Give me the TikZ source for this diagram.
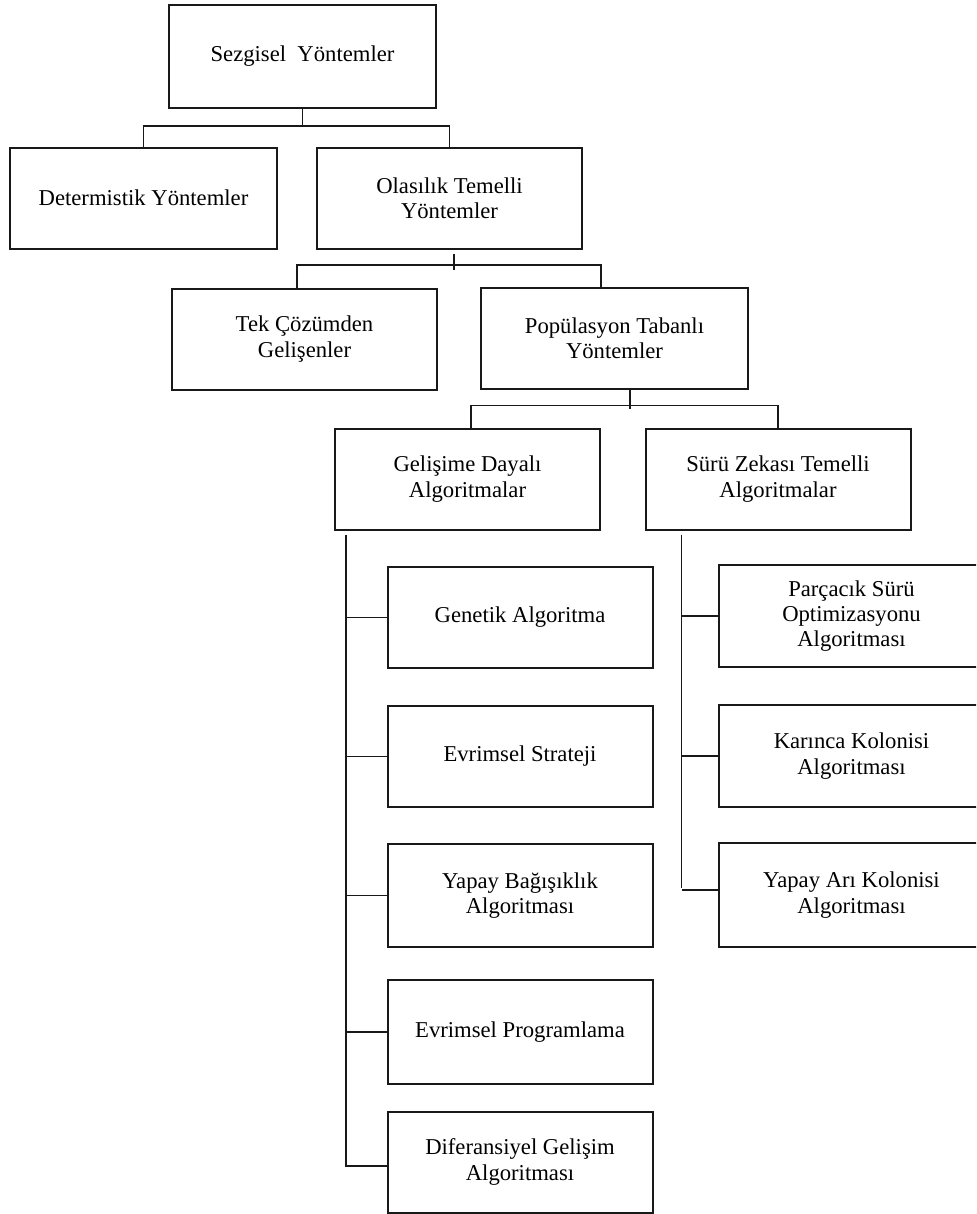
\documentclass[tikz,border=0pt]{standalone}
\usepackage{fontspec}
\setmainfont{Liberation Serif}
\usetikzlibrary{calc}
\begin{document}
\begin{tikzpicture}[x=0.75pt,y=-0.75pt,
  box/.style={draw=black!90, line width=1.5pt, fill=white, align=center,
    minimum width=198.75pt, minimum height=75.75pt, inner sep=0pt,
    font=\fontsize{17}{19}\selectfont},
  conn/.style={draw=black!90, line width=1.2pt}]
  \fill[white] (0,0) rectangle (976,1214);
  \useasboundingbox (0,0) rectangle (976,1214);
  \clip (0,0) rectangle (976,1214);

  % upper levels
  \node[box, minimum width=200.25pt, minimum height=77.25pt] (S) at (302.5,56.5) {Sezgisel\ \ Yöntemler};
  \node[box, minimum width=200.25pt] (D) at (143.5,198) {Determistik Yöntemler};
  \node[box] (O) at (449.5,198) {Olasılık Temelli\\Yöntemler};
  \node[box] (T) at (304.5,339) {Tek Çözümden\\Gelişenler};
  \node[box, minimum width=200.25pt] (P) at (614.5,338.5) {Popülasyon Tabanlı\\Yöntemler};
  \node[box] (G) at (467.5,479) {Gelişime Dayalı\\Algoritmalar};
  \node[box] (Z) at (778,479) {Sürü Zekası Temelli\\Algoritmalar};

  % evolution-based algorithms
  \node[box] (L1) at (520,617.5) {Genetik Algoritma};
  \node[box] (L2) at (520,756.5) {Evrimsel Strateji};
  \node[box, minimum height=77.25pt] (L3) at (520,895.5) {Yapay Bağışıklık\\Algoritması};
  \node[box, minimum height=78pt] (L4) at (520,1032) {Evrimsel Programlama};
  \node[box] (L5) at (520,1162) {Diferansiyel Gelişim\\Algoritması};

  % swarm intelligence algorithms
  \node[box, minimum height=76.5pt] (R1) at (851.5,616) {Parçacık Sürü\\Optimizasyonu\\Algoritması};
  \node[box, minimum height=76.5pt] (R2) at (851.5,756) {Karınca Kolonisi\\Algoritması};
  \node[box, minimum height=78pt] (R3) at (851.5,895) {Yapay Arı Kolonisi\\Algoritması};

  % tree connectors
  \draw[conn] (S.south) -- ($(S.south)+(0,17)$);
  \draw[conn] (D.north) |- ($(S.south)+(0,17)$) -| (O.north);

  \draw[conn] ($(O.south)+(4.5,4)$) -- ($(O.south)+(4.5,20)$);
  \draw[conn] ($(T.north)+(-7.5,0)$) |- ($(P.north)+(-13.5,-22)$) -- ($(P.north)+(-13.5,0)$);

  \draw[conn] ($(P.south)+(15.5,0)$) -- ($(P.south)+(15.5,19)$);
  \draw[conn] ($(G.north)+(3.5,0)$) |- ($(Z.north)+(0,-22)$) -- (Z.north);

  \coordinate (gt) at ($(G.south west)+(12,4)$);
  \draw[conn] (gt) |- ($(L5.west)+(0,4)$);
  \foreach \n in {L1,L2,L3,L4}
    \draw[conn] (\n.west) -- (\n.west -| gt);

  \coordinate (zt) at ($(Z.south west)+(37,4)$);
  \draw[conn] (zt) -- ($(R3.west -| zt)+(0,-7)$);
  \draw[conn] ($(R3.west)+(0,-5)$) -- ($(R3.west -| zt)+(0,-5)$);
  \foreach \n in {R1,R2}
    \draw[conn] (\n.west) -- (\n.west -| zt);
\end{tikzpicture}
\end{document}
